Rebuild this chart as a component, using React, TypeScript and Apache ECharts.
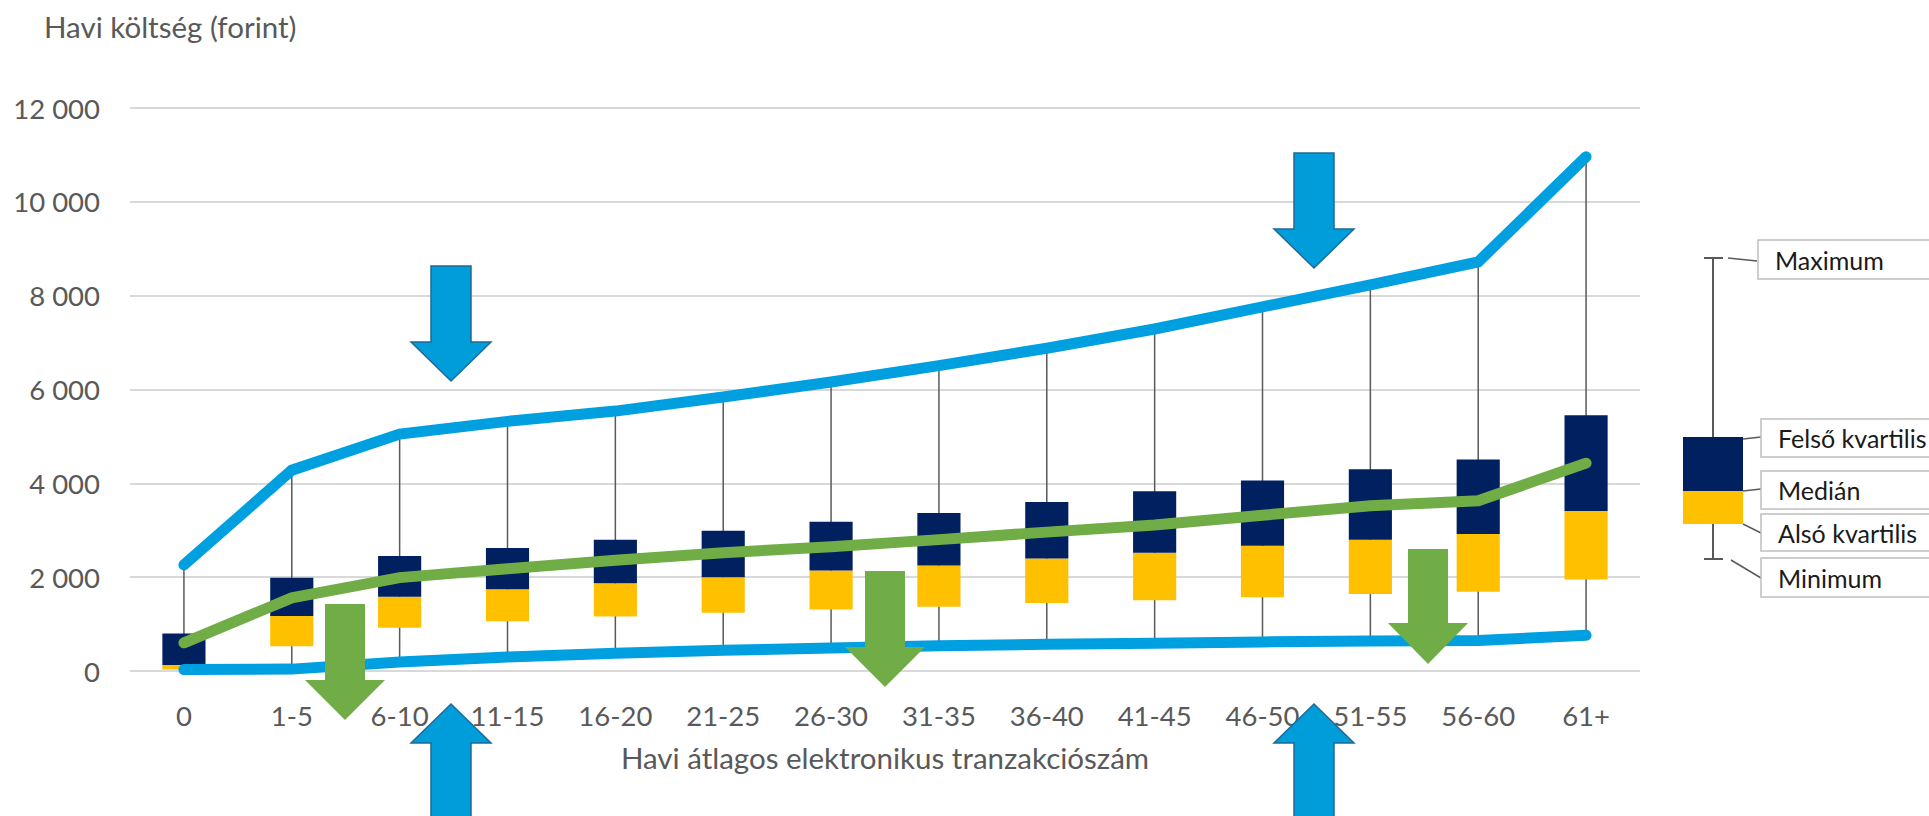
import React, { useEffect, useRef } from 'react';
import * as echarts from 'echarts';

const categories = ['0', '1-5', '6-10', '11-15', '16-20', '21-25', '26-30', '31-35', '36-40', '41-45', '46-50', '51-55', '56-60', '61+'];
const maxValues = [2260, 4280, 5050, 5320, 5540, 5840, 6160, 6510, 6880, 7290, 7760, 8230, 8720, 10960];
const q3Values = [800, 1990, 2450, 2620, 2800, 2990, 3180, 3370, 3600, 3830, 4060, 4300, 4510, 5450];
const medianValues = [130, 1170, 1580, 1740, 1870, 2000, 2140, 2250, 2400, 2520, 2670, 2800, 2920, 3410];
const q1Values = [30, 530, 920, 1060, 1160, 1240, 1310, 1370, 1450, 1510, 1570, 1640, 1690, 1950];
const minValues = [30, 40, 190, 300, 380, 440, 490, 540, 570, 590, 620, 640, 650, 760];
const meanValues = [600, 1560, 1990, 2180, 2360, 2520, 2650, 2800, 2960, 3110, 3320, 3520, 3630, 4430];

const yMin = 0;
const yMax = 12000;
const yInterval = 2000;

const yTitle = 'Havi költség (forint)';
const xTitle = 'Havi átlagos elektronikus tranzakciószám';
const legendLabels = ['Maximum', 'Felső kvartilis', 'Medián', 'Alsó kvartilis', 'Minimum'];

const FONT = 'Lato';
const BLUE = '#009FDF';
const NAVY = '#002060';
const YELLOW = '#FFC000';
const GREEN = '#70AD47';
const ARROW_BLUE = '#009DDB';
const ARROW_EDGE = '#1F6A97';

function downArrow(cx: number, top: number, headBase: number, tip: number, fill: string, stroke?: string) {
  return {
    type: 'polygon',
    z: 20,
    shape: {
      points: [
        [cx - 20, top], [cx + 20, top], [cx + 20, headBase], [cx + 40, headBase],
        [cx, tip], [cx - 40, headBase], [cx - 20, headBase],
      ],
    },
    style: { fill, stroke: stroke || null, lineWidth: stroke ? 1.5 : 0 },
  };
}

function upArrow(cx: number, tip: number, headBase: number, bottom: number, fill: string, stroke?: string) {
  return {
    type: 'polygon',
    z: 20,
    shape: {
      points: [
        [cx, tip], [cx + 40, headBase], [cx + 20, headBase], [cx + 20, bottom],
        [cx - 20, bottom], [cx - 20, headBase], [cx - 40, headBase],
      ],
    },
    style: { fill, stroke: stroke || null, lineWidth: stroke ? 1.5 : 0 },
  };
}

function legendGraphics() {
  const gray = '#595959';
  const border = '#BFBFBF';
  const items: any[] = [];
  items.push({ type: 'line', shape: { x1: 1713, y1: 258, x2: 1713, y2: 559 }, style: { stroke: gray, lineWidth: 2 } });
  items.push({ type: 'line', shape: { x1: 1704, y1: 258, x2: 1723, y2: 258 }, style: { stroke: gray, lineWidth: 2 } });
  items.push({ type: 'line', shape: { x1: 1704, y1: 559, x2: 1723, y2: 559 }, style: { stroke: gray, lineWidth: 2 } });
  items.push({ type: 'rect', shape: { x: 1683, y: 437, width: 60, height: 54 }, style: { fill: NAVY } });
  items.push({ type: 'rect', shape: { x: 1683, y: 491, width: 60, height: 33 }, style: { fill: YELLOW } });
  const leaders = [
    [1728, 258, 1757, 261],
    [1743, 439, 1761, 437],
    [1743, 491, 1761, 489],
    [1743, 524, 1761, 533],
    [1731, 560, 1761, 578],
  ];
  leaders.forEach((l) => items.push({ type: 'line', shape: { x1: l[0], y1: l[1], x2: l[2], y2: l[3] }, style: { stroke: gray, lineWidth: 1.5 } }));
  const boxes = [
    [1758, 240, 39, 1775],
    [1761, 419, 38, 1778],
    [1761, 471, 38, 1778],
    [1761, 514, 37, 1778],
    [1761, 558, 39, 1778],
  ];
  boxes.forEach((b, i) => {
    items.push({ type: 'rect', shape: { x: b[0], y: b[1], width: 200, height: b[2] }, style: { fill: '#fff', stroke: border, lineWidth: 1.5 } });
    items.push({
      type: 'text', x: b[3], y: b[1] + b[2] / 2,
      style: { text: legendLabels[i], fill: '#1a1a1a', font: `25px ${FONT}`, verticalAlign: 'middle', align: 'left' },
    });
  });
  return items;
}

export default function App() {
  const ref = useRef<HTMLDivElement>(null);
  useEffect(() => {
    document.body.style.margin = '0';
    const chart = echarts.init(ref.current!, null, { renderer: 'svg' });
    const boxData = categories.map((_, i) => [i, minValues[i], q1Values[i], medianValues[i], q3Values[i], maxValues[i]]);
    chart.setOption({
      animation: false,
      backgroundColor: '#fff',
      title: {
        text: yTitle,
        left: 39,
        top: 6,
        textStyle: { fontFamily: FONT, fontSize: 29.5, fontWeight: 'normal', color: '#595959' },
      },
      grid: { left: 130, right: 289, top: 108, bottom: 145 },
      xAxis: {
        type: 'category',
        data: categories,
        boundaryGap: true,
        axisLine: { show: false },
        axisTick: { show: false },
        axisLabel: { fontFamily: FONT, fontSize: 27.5, color: '#595959', margin: 30 },
        name: xTitle,
        nameLocation: 'middle',
        nameGap: 71,
        nameTextStyle: { fontFamily: FONT, fontSize: 29.5, color: '#595959' },
      },
      yAxis: {
        type: 'value',
        min: yMin,
        max: yMax,
        interval: yInterval,
        axisLine: { show: false },
        axisTick: { show: false },
        axisLabel: {
          fontFamily: FONT, fontSize: 27.5, color: '#595959', margin: 30,
          formatter: (v: number) => String(v).replace(/\B(?=(\d{3})+(?!\d))/g, ' '),
        },
        splitLine: { lineStyle: { color: '#D9D9D9', width: 2 } },
      },
      series: [
        {
          type: 'custom',
          z: 1,
          data: boxData,
          encode: { x: 0, y: [1, 2, 3, 4, 5] },
          renderItem: (params: any, api: any) => {
            const x = api.value(0);
            const top = api.coord([x, api.value(5)]);
            const bottom = api.coord([x, api.value(1)]);
            return {
              type: 'line',
              shape: { x1: top[0], y1: top[1], x2: bottom[0], y2: bottom[1] },
              style: { stroke: '#595959', lineWidth: 1.5 },
            };
          },
        },
        {
          type: 'custom',
          z: 2,
          data: boxData,
          encode: { x: 0, y: [1, 2, 3, 4, 5] },
          renderItem: (params: any, api: any) => {
            const x = api.value(0);
            const w = api.size([1, 0])[0] * 0.4;
            const pQ1 = api.coord([x, api.value(2)]);
            const pMed = api.coord([x, api.value(3)]);
            const pQ3 = api.coord([x, api.value(4)]);
            return {
              type: 'group',
              children: [
                { type: 'rect', shape: { x: pQ1[0] - w / 2, y: pMed[1], width: w, height: pQ1[1] - pMed[1] }, style: { fill: YELLOW } },
                { type: 'rect', shape: { x: pQ3[0] - w / 2, y: pQ3[1], width: w, height: pMed[1] - pQ3[1] }, style: { fill: NAVY } },
              ],
            };
          },
        },
        {
          type: 'line', name: 'Maximum', data: maxValues, z: 3, symbol: 'none',
          lineStyle: { color: BLUE, width: 11, cap: 'round', join: 'miter' },
        },
        {
          type: 'line', name: 'Minimum', data: minValues, z: 3, symbol: 'none',
          lineStyle: { color: BLUE, width: 11, cap: 'round', join: 'miter' },
        },
        {
          type: 'line', name: 'Átlag', data: meanValues, z: 4, symbol: 'none',
          lineStyle: { color: GREEN, width: 11, cap: 'round', join: 'miter' },
        },
      ],
      graphic: [
        downArrow(451, 266, 342, 381, ARROW_BLUE, ARROW_EDGE),
        downArrow(1314, 153, 229, 268, ARROW_BLUE, ARROW_EDGE),
        upArrow(451, 704, 743, 830, ARROW_BLUE, ARROW_EDGE),
        upArrow(1314, 704, 743, 830, ARROW_BLUE, ARROW_EDGE),
        downArrow(345, 604, 680, 720, GREEN),
        downArrow(885, 571, 647, 687, GREEN),
        downArrow(1428, 549, 623, 664, GREEN),
        ...legendGraphics(),
      ],
    });
    return () => chart.dispose();
  }, []);
  return <div ref={ref} style={{ width: 1929, height: 816 }} />;
}
